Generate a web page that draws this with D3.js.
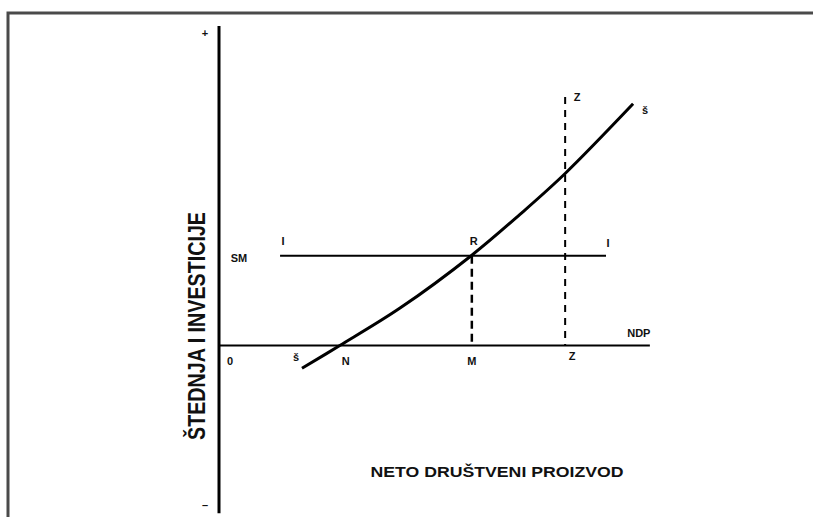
<!DOCTYPE html>
<html>
<head>
<meta charset="utf-8">
<script src="https://cdn.jsdelivr.net/npm/d3@7"></script>
<style>
  body { margin: 0; background: #fff; }
  svg { display: block; }
  text { font-family: "Liberation Sans", Arial, sans-serif; font-weight: bold; fill: #111; }
</style>
</head>
<body>
<svg id="chart" width="813" height="517"></svg>
<script>
// values in chart units (x = net output, y = saving / investment)
var savingCurve = [[1.93, -0.53], [2.81, 0], [4.21, 0.87], [5.88, 2.10], [7.0, 3.05], [8.05, 4.0], [9.63, 5.62]];
var investmentLevel = 2.09;
var investmentRange = [1.42, 9.0];
var pointN = 2.81, pointM = 5.88, pointZ = 8.05, zTop = 5.78;
var xMax = 10.02, yTop = 7.43, yBottom = -3.90;

var svg = d3.select("#chart");

var x = d3.scaleLinear().domain([0, 10]).range([219, 649]);
var y = d3.scaleLinear().domain([0, 1]).range([345.5, 302.5]);

// frame (open at right and bottom)
svg.append("path")
    .attr("d", "M8,517 L8,13 L813,13")
    .attr("fill", "none")
    .attr("stroke", "#4a4a4a")
    .attr("stroke-width", 3);

// axes
svg.append("line")
    .attr("x1", x(0)).attr("x2", x(0))
    .attr("y1", y(yTop)).attr("y2", y(yBottom))
    .attr("stroke", "#000").attr("stroke-width", 3);
svg.append("line")
    .attr("x1", x(0)).attr("x2", x(xMax))
    .attr("y1", y(0)).attr("y2", y(0))
    .attr("stroke", "#000").attr("stroke-width", 2);

// investment line I-I
svg.append("line")
    .attr("x1", x(investmentRange[0])).attr("x2", x(investmentRange[1]))
    .attr("y1", y(investmentLevel)).attr("y2", y(investmentLevel))
    .attr("stroke", "#000").attr("stroke-width", 2);

// dashed verticals
svg.append("line")
    .attr("x1", x(pointM)).attr("x2", x(pointM))
    .attr("y1", y(investmentLevel)).attr("y2", y(0))
    .attr("stroke", "#000").attr("stroke-width", 2.5)
    .attr("stroke-dasharray", "8,5");
svg.append("line")
    .attr("x1", x(pointZ)).attr("x2", x(pointZ))
    .attr("y1", y(zTop)).attr("y2", y(0))
    .attr("stroke", "#000").attr("stroke-width", 2)
    .attr("stroke-dasharray", "7,6");

// saving curve
var line = d3.line()
    .x(function (d) { return x(d[0]); })
    .y(function (d) { return y(d[1]); })
    .curve(d3.curveCatmullRom);
svg.append("path")
    .attr("d", line(savingCurve))
    .attr("fill", "none")
    .attr("stroke", "#000")
    .attr("stroke-width", 3);

// small labels [text, x, baseline y]
var last = savingCurve[savingCurve.length - 1];
var labels = [
    ["+", x(0) - 14, y(yTop) + 11],
    ["\u2013", x(0) - 14, y(yBottom) - 4],
    ["0", x(0) + 11, y(0) + 19.5],
    ["N", x(pointN) + 6, y(0) + 19.5],
    ["M", x(pointM), y(0) + 19.5],
    ["Z", x(pointZ) + 7, y(0) + 14.5],
    ["Z", x(pointZ) + 12, y(zTop) + 4],
    ["NDP", x(xMax) - 11, y(0) - 8.5],
    ["SM", x(0) + 20, y(investmentLevel) + 6.5],
    ["I", x(investmentRange[0]) + 3, y(investmentLevel) - 10.5],
    ["I", x(investmentRange[1]) + 2, y(investmentLevel) - 8.5],
    ["R", x(pointM) + 2, y(investmentLevel) - 10.5],
    ["\u0161", x(savingCurve[0][0]) - 6, y(savingCurve[0][1]) - 7],
    ["\u0161", x(last[0]) + 12, y(last[1]) + 10]
];
svg.selectAll("text.lbl")
    .data(labels)
    .enter()
    .append("text")
    .attr("class", "lbl")
    .attr("x", function (d) { return d[1]; })
    .attr("y", function (d) { return d[2]; })
    .attr("text-anchor", "middle")
    .style("font-size", "11px")
    .text(function (d) { return d[0]; });

// axis titles
svg.append("text")
    .attr("transform", "translate(205,326) rotate(-90)")
    .attr("text-anchor", "middle")
    .attr("textLength", 228)
    .attr("lengthAdjust", "spacingAndGlyphs")
    .style("font-family", "'Liberation Sans Narrow', 'Liberation Sans', sans-serif")
    .style("font-size", "24px")
    .text("ŠTEDNJA I INVESTICIJE");
svg.append("text")
    .attr("x", 497)
    .attr("y", 477)
    .attr("text-anchor", "middle")
    .attr("textLength", 253)
    .attr("lengthAdjust", "spacingAndGlyphs")
    .style("font-size", "15px")
    .text("NETO DRUŠTVENI PROIZVOD");
</script>
</body>
</html>
